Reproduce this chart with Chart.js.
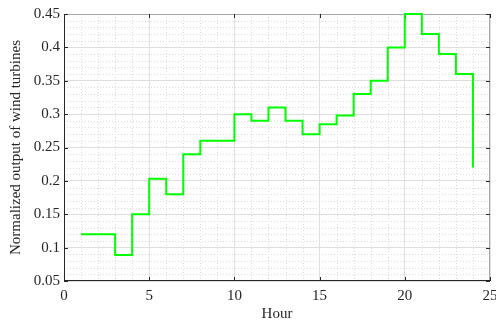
<!DOCTYPE html>
<html>
<head>
<meta charset="utf-8">
<script src="https://cdn.jsdelivr.net/npm/chart.js@4.4.0/dist/chart.umd.min.js"></script>
<style>
  html, body { margin: 0; padding: 0; background: #fff; }
  #wrap { width: 496px; height: 323px; }
</style>
</head>
<body>
<div id="wrap"><canvas id="grafico"></canvas></div>
<script>
// hourly values (stairs plot)
const hours = [1, 2, 3, 4, 5, 6, 7, 8, 9, 10, 11, 12, 13, 14, 15, 16, 17, 18, 19, 20, 21, 22, 23, 24];
const output = [0.12, 0.12, 0.089, 0.15, 0.203, 0.18, 0.24, 0.26, 0.26, 0.30, 0.29, 0.31,
                0.29, 0.27, 0.285, 0.298, 0.33, 0.35, 0.40, 0.45, 0.42, 0.39, 0.36, 0.22];
const xTicks = [0, 5, 10, 15, 20, 25];
const yTicks = [0.05, 0.1, 0.15, 0.2, 0.25, 0.3, 0.35, 0.4, 0.45];

const serif = "'Liberation Serif', 'Times New Roman', serif";

// minor dotted grid, box and inward tick marks (matlab look), all under the line
const matlabBox = {
    id: "matlabBox",
    beforeDatasetsDraw(chart) {
        const { ctx, chartArea: a, scales: { x, y } } = chart;
        ctx.save();
        ctx.strokeStyle = "#dcdcdc";
        ctx.lineWidth = 1;
        ctx.setLineDash([1, 2]);
        for (let v = 1; v < 25; v++) {
            if (v % 5 === 0) continue;
            const px = Math.round(x.getPixelForValue(v)) + 0.5;
            ctx.beginPath(); ctx.moveTo(px, a.top); ctx.lineTo(px, a.bottom); ctx.stroke();
        }
        for (let k = 6; k < 45; k++) {
            if (k % 5 === 0) continue;
            const py = Math.round(y.getPixelForValue(k / 100)) + 0.5;
            ctx.beginPath(); ctx.moveTo(a.left, py); ctx.lineTo(a.right, py); ctx.stroke();
        }
        ctx.setLineDash([]);

        ctx.strokeStyle = "#a8a8a8";
        ctx.beginPath();
        ctx.moveTo(a.left, a.top + 0.5); ctx.lineTo(a.right, a.top + 0.5);
        ctx.moveTo(a.right - 0.5, a.top); ctx.lineTo(a.right - 0.5, a.bottom);
        ctx.stroke();
        ctx.strokeStyle = "#262626";
        ctx.beginPath();
        ctx.moveTo(a.left + 0.5, a.top); ctx.lineTo(a.left + 0.5, a.bottom);
        ctx.moveTo(a.left, a.bottom - 0.5); ctx.lineTo(a.right, a.bottom - 0.5);
        const t = 4;
        xTicks.forEach(v => {
            const px = Math.round(x.getPixelForValue(v)) + 0.5;
            ctx.moveTo(px, a.bottom); ctx.lineTo(px, a.bottom - t);
            ctx.moveTo(px, a.top); ctx.lineTo(px, a.top + t);
        });
        yTicks.forEach(v => {
            const py = Math.round(y.getPixelForValue(v)) + 0.5;
            ctx.moveTo(a.left, py); ctx.lineTo(a.left + t, py);
            ctx.moveTo(a.right, py); ctx.lineTo(a.right - t, py);
        });
        ctx.stroke();
        ctx.restore();
    }
};

const ctx = document.getElementById("grafico");
new Chart(ctx, {
    type: "line",
    data: {
        datasets: [{
            label: "Normalized output",
            data: hours.map((h, i) => ({ x: h, y: output[i] })),
            stepped: true,
            borderColor: "#00ff00",
            borderWidth: 2,
            pointRadius: 0,
            fill: false,
            clip: 3
        }]
    },
    options: {
        responsive: true,
        maintainAspectRatio: false,
        animation: false,
        layout: { padding: { top: 14, right: 6, left: 0, bottom: 0 } },
        plugins: {
            legend: { display: false },
            tooltip: { enabled: false }
        },
        scales: {
            x: {
                type: "linear",
                min: 0,
                max: 25,
                afterBuildTicks: s => { s.ticks = xTicks.map(v => ({ value: v })); },
                afterFit: s => { s.height = 42; s.paddingRight = 0; s.paddingLeft = 0; },
                ticks: {
                    color: "#262626",
                    padding: 6,
                    maxRotation: 0,
                    font: { family: serif, size: 15 }
                },
                grid: { color: "#dedede", drawTicks: false },
                border: { display: false },
                title: {
                    display: true,
                    text: "Hour",
                    color: "#262626",
                    padding: { top: 0, bottom: 0 },
                    font: { family: serif, size: 15 }
                }
            },
            y: {
                min: 0.05,
                max: 0.45,
                afterBuildTicks: s => { s.ticks = yTicks.map(v => ({ value: v })); },
                afterFit: s => { s.width = 64; },
                ticks: {
                    color: "#262626",
                    padding: 4,
                    font: { family: serif, size: 15 },
                    callback: v => String(+v.toFixed(2))
                },
                grid: { color: "#dedede", drawTicks: false },
                border: { display: false },
                title: {
                    display: true,
                    text: "Normalized output of wind turbines",
                    color: "#262626",
                    padding: { top: 7, bottom: 0 },
                    font: { family: serif, size: 15 }
                }
            }
        }
    },
    plugins: [matlabBox]
});
</script>
</body>
</html>
